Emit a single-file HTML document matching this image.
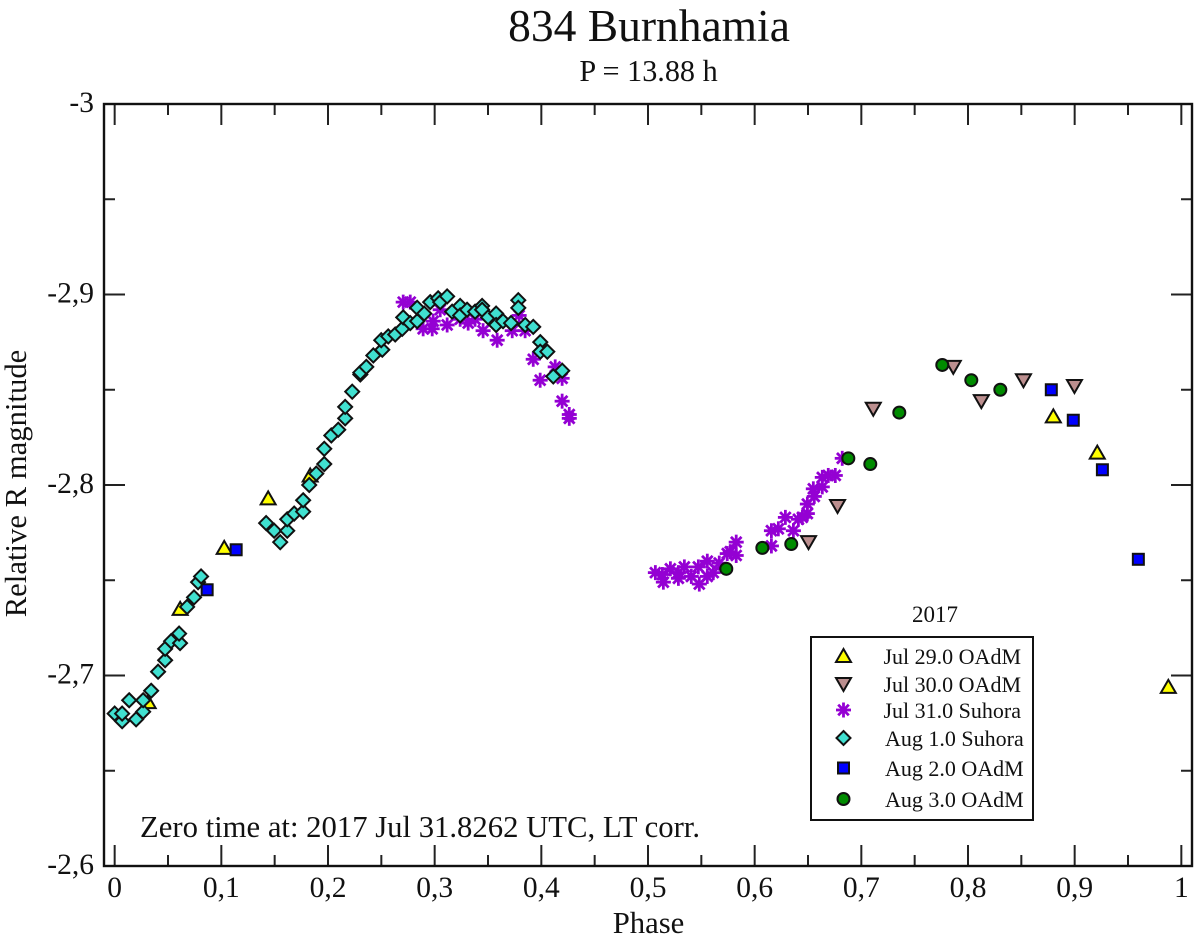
<!DOCTYPE html>
<html lang="en">
<head>
<meta charset="utf-8">
<title>834 Burnhamia</title>
<style>
html,body{margin:0;padding:0;background:#fff}
svg{display:block}
text{font-family:"Liberation Serif",serif;fill:#111}
</style>
</head>
<body>
<svg id="chart" xmlns="http://www.w3.org/2000/svg" width="1200" height="944" viewBox="0 0 1200 944">
<rect x="0" y="0" width="1200" height="944" fill="#fff"/>
<text x="649" y="41" font-size="45.5" text-anchor="middle">834 Burnhamia</text>
<text x="648.5" y="81" font-size="30.2" text-anchor="middle">P = 13.88 h</text>
<text x="0" y="0" font-size="30.7" text-anchor="middle" transform="translate(26 483.5) rotate(-90)">Relative R magnitude</text>
<text x="648.5" y="933" font-size="30.7" text-anchor="middle">Phase</text>
<text x="140" y="837" font-size="30.7">Zero time at: 2017 Jul 31.8262 UTC, LT corr.</text>
<g id="ticks"></g>
<g id="marks"></g>
<rect x="104" y="104" width="1088" height="762" fill="none" stroke="#111" stroke-width="2.4"/>
<text x="935" y="622" font-size="23" text-anchor="middle">2017</text>
<rect x="811" y="637" width="222" height="183" fill="#fff" stroke="#111" stroke-width="2"/>
<g id="legend"></g>
</svg>
<script>
const xTicks = ['0','0,1','0,2','0,3','0,4','0,5','0,6','0,7','0,8','0,9','1'];
const xTickValues = [0,0.1,0.2,0.3,0.4,0.5,0.6,0.7,0.8,0.9,1];
const yTicks = ['-3','-2,9','-2,8','-2,7','-2,6'];
const yTickValues = [-3,-2.9,-2.8,-2.7,-2.6];
const seriesNames = ['Jul 29.0 OAdM','Jul 30.0 OAdM','Jul 31.0 Suhora','Aug 1.0 Suhora','Aug 2.0 OAdM','Aug 3.0 OAdM'];

const jul29Phase = [0.0314,0.0614,0.1027,0.1439,0.1833,0.8800,0.9212,0.9878];
const jul29Mag = [-2.686,-2.735,-2.767,-2.793,-2.805,-2.836,-2.817,-2.694];

const jul30Phase = [0.6505,0.6777,0.7112,0.7862,0.8125,0.8520,0.8998];
const jul30Mag = [-2.770,-2.789,-2.840,-2.862,-2.844,-2.855,-2.852];

const jul31Phase = [0.2705,0.2771,0.2892,0.2977,0.2986,0.3052,0.3117,0.3239,0.3314,0.3379,0.3454,0.3586,0.3727,0.3848,0.3792,0.3924,0.3989,0.4130,0.4195,0.4195,0.4262,0.4262,
0.5069,0.5135,0.5144,0.5210,0.5285,0.5285,0.5341,0.5406,0.5472,0.5481,0.5556,0.5556,0.5612,0.5668,0.5743,0.5771,0.5827,0.5827,0.6157,0.6157,0.6222,0.6288,0.6363,0.6410,0.6447,0.6494,0.6494,0.6559,0.6550,0.6634,0.6634,0.6690,0.6756,0.6821];
const jul31Mag = [-2.896,-2.896,-2.882,-2.882,-2.886,-2.892,-2.884,-2.887,-2.885,-2.887,-2.881,-2.876,-2.881,-2.881,-2.889,-2.866,-2.855,-2.862,-2.856,-2.844,-2.837,-2.835,
-2.754,-2.753,-2.749,-2.756,-2.751,-2.754,-2.757,-2.752,-2.757,-2.748,-2.760,-2.752,-2.754,-2.759,-2.764,-2.765,-2.770,-2.763,-2.768,-2.776,-2.777,-2.783,-2.776,-2.782,-2.783,-2.785,-2.790,-2.794,-2.798,-2.799,-2.804,-2.805,-2.805,-2.814];

const aug1Phase = [0.000,0.007,0.007,0.0136,0.0201,0.0267,0.0267,0.0342,0.0407,0.0473,0.0473,0.0529,0.0613,0.0604,0.0679,0.0744,0.0782,0.0810,
0.1420,0.1495,0.1552,0.1618,0.1618,0.1683,0.1767,0.1767,0.1824,0.1890,0.1965,0.1965,0.2031,0.2096,0.2161,0.2161,0.2227,0.2303,0.2303,0.2359,0.2425,
0.2509,0.2499,0.2565,0.2630,0.2696,0.2705,0.2771,0.2836,0.2836,0.2902,0.2958,0.3033,0.3052,0.3117,0.3164,0.3239,0.3239,0.3304,0.3379,0.3445,0.3445,0.3501,0.3576,0.3576,0.3641,0.3716,0.3849,0.3924,0.3784,0.3784,0.3990,0.3990,0.4056,0.4112,0.4196];
const aug1Mag = [-2.680,-2.676,-2.680,-2.687,-2.677,-2.681,-2.687,-2.692,-2.702,-2.708,-2.714,-2.718,-2.717,-2.722,-2.736,-2.741,-2.749,-2.752,
-2.780,-2.776,-2.770,-2.776,-2.782,-2.785,-2.786,-2.792,-2.800,-2.806,-2.811,-2.819,-2.826,-2.829,-2.835,-2.841,-2.849,-2.858,-2.859,-2.862,-2.868,
-2.871,-2.876,-2.878,-2.879,-2.882,-2.888,-2.885,-2.886,-2.893,-2.890,-2.896,-2.898,-2.896,-2.899,-2.891,-2.894,-2.889,-2.892,-2.891,-2.894,-2.892,-2.888,-2.890,-2.884,-2.886,-2.885,-2.884,-2.883,-2.897,-2.893,-2.875,-2.870,-2.870,-2.857,-2.860];

const aug2Phase = [0.0867,0.1139,0.8781,0.8987,0.9260,0.9597];
const aug2Mag = [-2.745,-2.766,-2.850,-2.834,-2.808,-2.761];

const aug3Phase = [0.5734,0.6072,0.6343,0.6878,0.7084,0.7356,0.7759,0.8031,0.8303];
const aug3Mag = [-2.756,-2.767,-2.769,-2.814,-2.811,-2.838,-2.863,-2.855,-2.850];

const NS = 'http://www.w3.org/2000/svg';
const PLOT_L = 104, PLOT_R = 1192, PLOT_T = 104, PLOT_B = 866;
const X_MIN = -0.01, X_MAX = 1.01, Y_MIN = -3, Y_MAX = -2.6;
function xScale(v){ return PLOT_L + (v - X_MIN) / (X_MAX - X_MIN) * (PLOT_R - PLOT_L); }
function yScale(v){ return PLOT_T + (v - Y_MIN) / (Y_MAX - Y_MIN) * (PLOT_B - PLOT_T); }

function make(parent, tag, attrs, text){
  const el = document.createElementNS(NS, tag);
  for (const k in attrs) el.setAttribute(k, attrs[k]);
  if (text !== undefined) el.textContent = text;
  parent.appendChild(el);
  return el;
}

const OUT = '#111';
function drawTriUp(g, cx, cy){
  make(g, 'polygon', {points:`${cx-7.5},${cy+6} ${cx+7.5},${cy+6} ${cx},${cy-7}`, fill:'#ffff00', stroke:OUT, 'stroke-width':2, 'stroke-linejoin':'miter'});
}
function drawTriDown(g, cx, cy){
  make(g, 'polygon', {points:`${cx-7.5},${cy-6} ${cx+7.5},${cy-6} ${cx},${cy+7}`, fill:'#bc8f8f', stroke:OUT, 'stroke-width':2, 'stroke-linejoin':'miter'});
}
function drawStar(g, cx, cy){
  for (let i = 0; i < 4; i++){
    const a = i * Math.PI / 4, r = 7.5;
    const dx = r * Math.cos(a), dy = r * Math.sin(a);
    make(g, 'line', {x1:cx-dx, y1:cy-dy, x2:cx+dx, y2:cy+dy, stroke:'#9400d3', 'stroke-width':2.8});
  }
}
function drawDiamond(g, cx, cy){
  make(g, 'polygon', {points:`${cx},${cy-7} ${cx+7},${cy} ${cx},${cy+7} ${cx-7},${cy}`, fill:'#40e0d0', stroke:OUT, 'stroke-width':2});
}
function drawSquare(g, cx, cy){
  make(g, 'rect', {x:cx-5.5, y:cy-5.5, width:11, height:11, fill:'#0000ff', stroke:OUT, 'stroke-width':2});
}
function drawCircle(g, cx, cy){
  make(g, 'circle', {cx:cx, cy:cy, r:6, fill:'#008b00', stroke:OUT, 'stroke-width':2});
}

const ticksG = document.getElementById('ticks');
function tickLine(x1, y1, x2, y2){
  const t = make(ticksG, 'line', {x1:x1, y1:y1, x2:x2, y2:y2, stroke:'#222', 'stroke-width':2});
  
  
}
xTickValues.forEach(function(v, i){
  const x = xScale(v);
  tickLine(x, PLOT_B, x, PLOT_B - 21);
  tickLine(x, PLOT_T, x, PLOT_T + 21);
  if (i < xTickValues.length - 1){
    const m = xScale((v + xTickValues[i + 1]) / 2);
    tickLine(m, PLOT_B, m, PLOT_B - 11);
    tickLine(m, PLOT_T, m, PLOT_T + 11);
  }
  const lab = make(ticksG, 'text', {x:x, y:897, 'font-size':29.5, 'text-anchor':'middle'}, xTicks[i]);
  
  
});
yTickValues.forEach(function(v, i){
  const y = yScale(v);
  tickLine(PLOT_L, y, PLOT_L + 21, y);
  tickLine(PLOT_R, y, PLOT_R - 21, y);
  if (i < yTickValues.length - 1){
    const m = yScale((v + yTickValues[i + 1]) / 2);
    tickLine(PLOT_L, m, PLOT_L + 11, m);
    tickLine(PLOT_R, m, PLOT_R - 11, m);
  }
  const lab = make(ticksG, 'text', {x:94, y:y + 8, 'font-size':29.5, 'text-anchor':'end'}, yTicks[i]);
  
  
});

const marksG = document.getElementById('marks');
function drawSeries(name, phases, mags, draw){
  const g = make(marksG, 'g', {});
  
  
  phases.forEach(function(p, i){ draw(g, xScale(p), yScale(mags[i])); });
}
drawSeries('series-jul-29-oadm', jul29Phase, jul29Mag, drawTriUp);
drawSeries('series-jul-30-oadm', jul30Phase, jul30Mag, drawTriDown);
drawSeries('series-jul-31-suhora', jul31Phase, jul31Mag, drawStar);
drawSeries('series-aug-1-suhora', aug1Phase, aug1Mag, drawDiamond);
drawSeries('series-aug-2-oadm', aug2Phase, aug2Mag, drawSquare);
drawSeries('series-aug-3-oadm', aug3Phase, aug3Mag, drawCircle);

const legendG = document.getElementById('legend');
const legendDraw = [drawTriUp, drawTriDown, drawStar, drawDiamond, drawSquare, drawCircle];
const legendRowY = [656, 684, 710, 738, 768, 799];
seriesNames.forEach(function(n, i){
  const row = make(legendG, 'g', {});
  
  
  legendDraw[i](row, 843.5, legendRowY[i]);
  make(row, 'text', {x: n.charAt(0) === 'A' ? 885 : 883.5, y: legendRowY[i] + 8, 'font-size':22}, n);
});
</script>
</body>
</html>
